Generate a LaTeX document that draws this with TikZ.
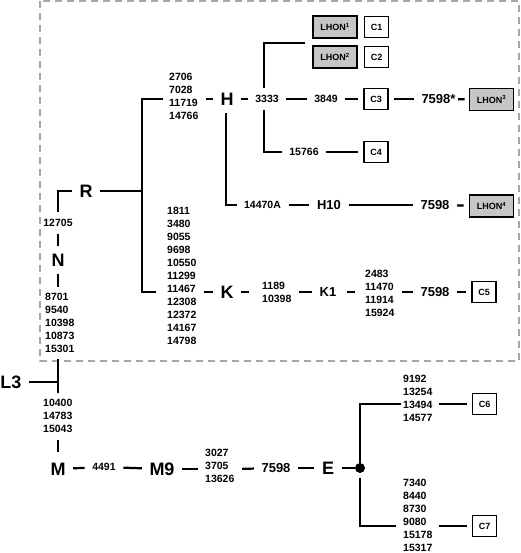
\documentclass[tikz,border=0pt]{standalone}
\usepackage{fontspec}
\setmainfont{Liberation Sans}
\tikzset{
  big/.style={font=\fontsize{18}{18}\selectfont\bfseries},
  mid/.style={font=\fontsize{13}{13}\selectfont\bfseries},
  num/.style={font=\fontsize{10.5}{13}\selectfont\bfseries},
  lst/.style={num, align=left, anchor=west},
  cbox/.style={draw, line width=1.6pt, minimum width=24pt, minimum height=21pt, inner sep=0pt, font=\fontsize{9}{9}\selectfont\bfseries},
  lhon/.style={cbox, fill=gray!45, minimum width=44pt, minimum height=22pt},
  dot/.style={circle, fill, inner sep=0pt, minimum size=10pt},
  link/.style={line width=2.2pt, shorten <=5pt, shorten >=5pt}
}
\begin{document}
\begin{tikzpicture}[x=1pt, y=-1pt, inner sep=2.5pt]
\useasboundingbox (0,0) rectangle (520,553);
\draw[gray!70, line width=1.3pt, dash pattern=on 7pt off 5pt] (40,1) rectangle (519,361);

\node[big] (N) at (58,260) {N};
\node[num] (n12705) at (58,223) {12705};
\node[big] (R) at (86,191) {R};
\node[lst] (L8701) at (42.5,323) {8701\\9540\\10398\\10873\\15301};
\node[big] (L3) at (11,382) {L3};
\node[lst] (L10400) at (40.5,416) {10400\\14783\\15043};
\node[big] (M) at (58,469) {M};
\node[num] (n4491) at (104,467) {4491};
\node[big] (M9) at (162,469) {M9};
\node[lst] (L3027) at (202.5,466) {3027\\3705\\13626};
\node[mid] (b7598) at (276,468) {7598};
\node[big] (E) at (328,468) {E};
\node[dot] (dot) at (360,468) {};
\node[lst] (L9192) at (400.5,398.5) {9192\\13254\\13494\\14577};
\node[lst] (L7340) at (400.5,515.5) {7340\\8440\\8730\\9080\\15178\\15317};
\node[cbox] (C6) at (484.5,404) {C6};
\node[cbox] (C7) at (484.5,526) {C7};

\node[lst] (L2706) at (166.5,96.5) {2706\\7028\\11719\\14766};
\node[big] (H) at (227,99) {H};
\node[num] (n3333) at (267,99) {3333};
\node[num] (n3849) at (326,99) {3849};
\node[cbox] (C3) at (376,99) {C3};
\node[mid] (s7598) at (438.5,99) {7598*};
\node[lhon] (LH3) at (491.5,99.5) {LHON\textsuperscript{3}};
\node[lhon] (LH1) at (335,27) {LHON\textsuperscript{1}};
\node[cbox] (C1) at (376.5,27) {C1};
\node[lhon] (LH2) at (335,57) {LHON\textsuperscript{2}};
\node[cbox] (C2) at (376.5,57) {C2};
\coordinate (lj) at (305,43);
\node[num] (n15766) at (304,152) {15766};
\node[cbox] (C4) at (376,152) {C4};
\node[num] (n14470) at (262.5,205) {14470A};
\node[mid] (H10) at (329,205) {H10};
\node[mid] (h7598) at (435,205) {7598};
\node[lhon] (LH4) at (491.5,206) {LHON\textsuperscript{4}};

\node[lst] (L1811) at (164.5,276) {1811\\3480\\9055\\9698\\10550\\11299\\11467\\12308\\12372\\14167\\14798};
\node[big] (K) at (227,292) {K};
\node[lst] (L1189) at (259.5,292.5) {1189\\10398};
\node[mid] (K1) at (328,292) {K1};
\node[lst] (L2483) at (362.5,293) {2483\\11470\\11914\\15924};
\node[mid] (k7598) at (435,292) {7598};
\node[cbox] (C5) at (484,292) {C5};
\coordinate (rj) at (142,191);
\coordinate (j3) at (58,382);

\draw[link] (n12705) -- (N);
\draw[link] (n12705) |- (R);
\draw[link, shorten >=4pt] (N) -- (N |- L8701.north);
\draw[link, shorten <=4pt, shorten >=4pt] (N |- L8701.south) -- (N |- L10400.north);
\draw[link, shorten >=0pt] (L3) -- (j3);
\draw[link, shorten >=8pt] (N |- L10400.south) -- (M);
\draw[link] (M) -- (n4491);
\draw[link] (n4491) -- (M9);
\draw[link] (M9) -- (L3027.west |- M9);
\draw[link] (L3027.east |- M9) -- (b7598);
\draw[link] (b7598) -- (E);
\draw[link, shorten >=0pt] (E) -- (dot);
\draw[link] (L9192.west |- C6) -| (dot) |- (L7340.west |- C7);
\draw[link, shorten <=3.5pt] (L9192.east |- C6) -- (C6);
\draw[link, shorten <=3.5pt] (L7340.east |- C7) -- (C7);

\draw[link, shorten >=0pt] (R) -- (rj);
\draw[link, shorten <=4pt, shorten >=9pt] (L2706.west |- H) -| (rj) |- (L1811.west |- K);
\draw[link] (L2706.east |- H) -- (H);
\draw[link] (H) -- (n3333);
\draw[link] (n3333) -- (n3849);
\draw[link] (n3849) -- (C3);
\draw[link] (C3) -- (s7598);
\draw[link, shorten <=0pt, shorten >=4pt] (s7598) -- (LH3);
\draw[link, shorten >=0pt] ([xshift=-3pt]n3333.north) |- (lj);
\draw[link] ([xshift=-3pt]n3333.south) |- (n15766);
\draw[link] (n15766) -- (C4);
\draw[link, shorten >=4.5pt] ([xshift=-1pt]H.south) |- (n14470);
\draw[link] (n14470) -- (H10);
\draw[link] (H10) -- (h7598);
\draw[link] (h7598) -- (LH4);

\draw[link] (L1811.east |- K) -- (K);
\draw[link, shorten >=11pt] (K) -- (L1189.west |- K);
\draw[link] (L1189.east |- K) -- (K1);
\draw[link, shorten <=8pt, shorten >=8pt] (K1) -- (L2483.west |- K);
\draw[link] (L2483.east |- K) -- (k7598);
\draw[link] (k7598) -- (C5);
\end{tikzpicture}
\end{document}
